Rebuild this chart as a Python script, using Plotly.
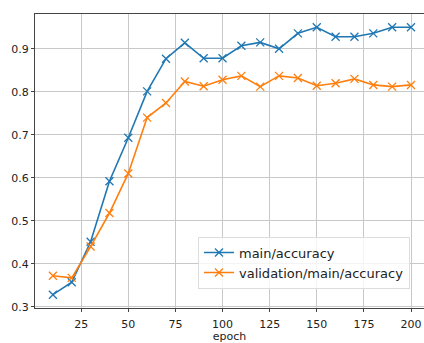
import plotly.graph_objects as go

epochs = [10, 20, 30, 40, 50, 60, 70, 80, 90, 100, 110, 120, 130, 140, 150, 160, 170, 180, 190, 200]
main_acc = [0.328, 0.357, 0.451, 0.592, 0.693, 0.801, 0.877, 0.914, 0.878, 0.878,
            0.907, 0.915, 0.900, 0.936, 0.950, 0.928, 0.928, 0.936, 0.950, 0.950]
val_acc = [0.372, 0.367, 0.440, 0.518, 0.610, 0.740, 0.774, 0.824, 0.813, 0.828,
           0.837, 0.812, 0.837, 0.832, 0.814, 0.820, 0.830, 0.816, 0.812, 0.816]
x_ticks = [25, 50, 75, 100, 125, 150, 175, 200]
y_ticks = [0.3, 0.4, 0.5, 0.6, 0.7, 0.8, 0.9]

blue = "#1f77b4"
orange = "#ff7f0e"

fig = go.Figure()
fig.add_trace(go.Scatter(
    x=epochs, y=main_acc, mode="lines+markers", name="main/accuracy",
    line=dict(color=blue, width=1.6),
    marker=dict(symbol="x-thin", size=8, line=dict(color=blue, width=1.3), color=blue),
))
fig.add_trace(go.Scatter(
    x=epochs, y=val_acc, mode="lines+markers", name="validation/main/accuracy",
    line=dict(color=orange, width=1.6),
    marker=dict(symbol="x-thin", size=8, line=dict(color=orange, width=1.3), color=orange),
))

font = dict(family="DejaVu Sans", size=11, color="#222")
fig.update_layout(
    width=424, height=343,
    margin=dict(l=35, r=0, t=14, b=35),
    paper_bgcolor="white", plot_bgcolor="white",
    font=font,
    showlegend=True,
    legend=dict(
        x=0.419, y=0.066, xanchor="left", yanchor="bottom",
        bgcolor="rgba(255,255,255,0.8)", bordercolor="#dddddd", borderwidth=1,
        font=dict(family="DejaVu Sans", size=13, color="#222"),
        tracegroupgap=0, itemwidth=30,
    ),
    xaxis=dict(
        range=[0.5, 206.9], tickvals=x_ticks, ticktext=[str(v) for v in x_ticks],
        showgrid=True, gridcolor="#c8c8c8", gridwidth=1,
        showline=True, linecolor="#444", linewidth=1.2, mirror=True,
        ticks="outside", ticklen=3, tickcolor="#444",
        ticklabelstandoff=3,
        zeroline=False,
        title=dict(text="epoch", font=dict(family="DejaVu Sans", size=11, color="#222"), standoff=5),
    ),
    yaxis=dict(
        range=[0.297, 0.981], tickvals=y_ticks, ticktext=[f"{v:.1f}" for v in y_ticks],
        showgrid=True, gridcolor="#c8c8c8", gridwidth=1,
        showline=True, linecolor="#444", linewidth=1.2, mirror=False,
        ticks="outside", ticklen=3, tickcolor="#444",
        zeroline=False,
    ),
)

fig.write_html("out.html", config={"displayModeBar": False},
               post_script="document.body.style.margin='0';document.body.style.overflow='hidden';")
